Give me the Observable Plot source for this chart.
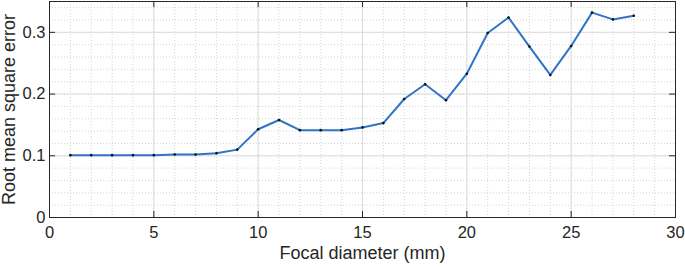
<!DOCTYPE html>
<html><head><meta charset="utf-8">
<script src="https://cdn.jsdelivr.net/npm/d3@7"></script>
<script src="https://cdn.jsdelivr.net/npm/@observablehq/plot@0.6"></script>
<style>body{margin:0;background:#fff}</style>
</head><body><div id="chart"></div>
<script>
const diameters = [1,2,3,4,5,6,7,8,9,10,11,12,13,14,15,16,17,18,19,20,21,22,23,24,25,26,27,28];
const rmse = [0.101,0.101,0.101,0.101,0.101,0.102,0.102,0.104,0.110,0.143,0.158,0.1415,0.1415,0.1415,0.146,0.153,0.192,0.216,0.190,0.233,0.299,0.324,0.277,0.231,0.278,0.332,0.321,0.327];
const xTicks = [0,5,10,15,20,25,30];
const yTicks = [0,0.1,0.2,0.3];
const yTickLabels = ["0","0.1","0.2","0.3"];
const xLabel = "Focal diameter (mm)";
const yLabel = "Root mean square error";
const xMinor = d3.range(0,31,1);
const yMinor = d3.range(0,0.35,0.02);

const data = diameters.map((d,i)=>({d, v: rmse[i]}));
const W=685,H=268,mL=49,mR=10,mT=1,mB=51;
const pw=W-mL-mR, ph=H-mT-mB, tk=6;
const axisColor="#262626";
const font="'Liberation Sans', Arial, Helvetica, sans-serif";

const chart = Plot.plot({
  width:W, height:H, marginLeft:mL, marginRight:mR, marginTop:mT, marginBottom:mB,
  style:{fontFamily:font, background:"#fff", color:axisColor},
  x:{domain:[0,30]},
  y:{domain:[0,0.35]},
  marks:[
    Plot.ruleX(xMinor,{x:d=>d, stroke:"#d4d4d4", strokeDasharray:"1,2"}),
    Plot.ruleY(yMinor,{y:d=>d, stroke:"#d4d4d4", strokeDasharray:"1,2"}),
    Plot.ruleX(xTicks,{x:d=>d, stroke:"#dcdcdc"}),
    Plot.ruleY(yTicks,{y:d=>d, stroke:"#dcdcdc"}),
    Plot.line(data,{x:"d", y:"v", stroke:"#2f74c8", strokeWidth:2}),
    Plot.dot(data,{x:"d", y:"v", r:1.3, fill:"#111", stroke:"none"}),
    Plot.ruleX(xTicks,{x:d=>d, stroke:axisColor, insetTop:ph-tk}),
    Plot.ruleX(xTicks,{x:d=>d, stroke:axisColor, insetBottom:ph-tk}),
    Plot.ruleY(yTicks,{y:d=>d, stroke:axisColor, insetRight:pw-tk}),
    Plot.ruleY(yTicks,{y:d=>d, stroke:axisColor, insetLeft:pw-tk}),
    Plot.frame({stroke:axisColor}),
    Plot.axisX({ticks:xTicks, tickSize:0, tickPadding:9, fontSize:16.5, label:null}),
    Plot.axisY({ticks:yTicks, tickSize:0, tickPadding:4, fontSize:16.5, label:null,
      tickFormat:d=>yTickLabels[yTicks.indexOf(d)]}),
    Plot.text([xLabel],{text:d=>d, frameAnchor:"bottom", dy:41, fontSize:18, fill:axisColor}),
    Plot.text([yLabel],{text:d=>d, frameAnchor:"left", textAnchor:"middle", rotate:-90, dx:-40, fontSize:18, fill:axisColor})
  ]
});
document.getElementById("chart").appendChild(chart);
</script>
</body></html>
